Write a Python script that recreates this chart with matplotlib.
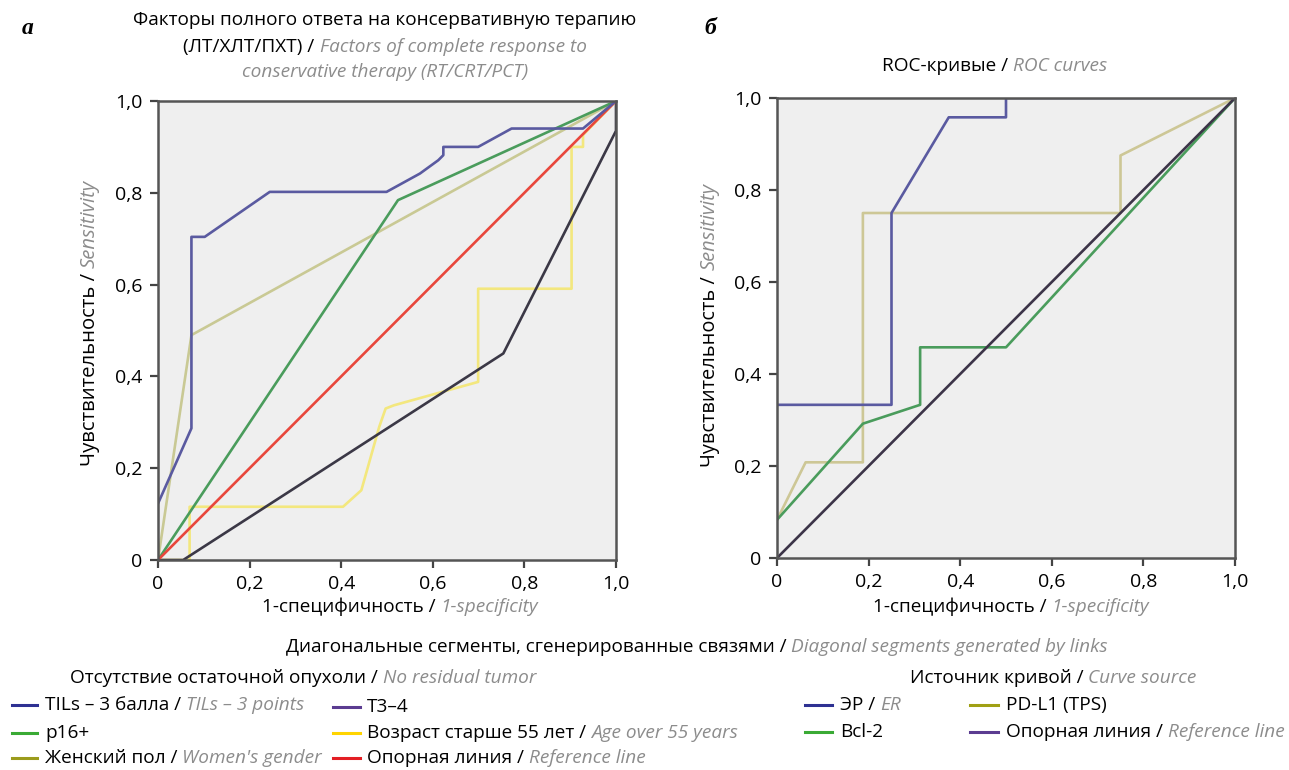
import numpy as np
import matplotlib
matplotlib.use("Agg")
import matplotlib.pyplot as plt
from matplotlib.lines import Line2D
from matplotlib.ticker import FuncFormatter

# panel a: ROC curves, complete response to conservative therapy
tils_x = [0, 0.073, 0.073, 0.102, 0.244, 0.499, 0.572, 0.612, 0.623, 0.623, 0.699, 0.772, 0.928, 1.0]
tils_y = [0.123, 0.287, 0.704, 0.704, 0.802, 0.802, 0.842, 0.871, 0.882, 0.90, 0.90, 0.94, 0.94, 1.0]
p16_x = [0, 0.524, 1.0]
p16_y = [0, 0.784, 1.0]
gender_x = [0, 0.073, 1.0]
gender_y = [0, 0.49, 1.0]
t34_x = [0, 0.055, 0.754, 1.0, 1.0]
t34_y = [0, 0, 0.45, 0.935, 1.0]
age_x = [0, 0.069, 0.069, 0.404, 0.444, 0.483, 0.497, 0.515, 0.699, 0.699, 0.903, 0.903, 0.928, 0.928, 1.0]
age_y = [0, 0, 0.116, 0.116, 0.152, 0.29, 0.33, 0.337, 0.388, 0.591, 0.591, 0.90, 0.90, 0.926, 1.0]
ref_x = [0, 1]
ref_y = [0, 1]

# panel b: ER, Bcl-2, PD-L1
er_x = [0, 0.25, 0.25, 0.375, 0.5, 0.5, 1.0]
er_y = [0.333, 0.333, 0.75, 0.958, 0.958, 1.0, 1.0]
bcl2_x = [0, 0.1875, 0.3125, 0.3125, 0.5, 1.0]
bcl2_y = [0.083, 0.292, 0.333, 0.458, 0.458, 1.0]
pdl1_x = [0, 0.0625, 0.1875, 0.1875, 0.75, 0.75, 1.0]
pdl1_y = [0.083, 0.208, 0.208, 0.75, 0.75, 0.875, 1.0]

ticks = [0, 0.2, 0.4, 0.6, 0.8, 1.0]

FONT = "Open Sans"
GREY = "#8c8c8c"
FS = 13.7
plt.rcParams["font.family"] = [FONT, "DejaVu Sans"]

W, H = 1289, 770
fig = plt.figure(figsize=(W / 100, H / 100), dpi=100)


def px(x, y):
    return x / W, 1 - y / H


def setup(ax):
    ax.set_facecolor("#efefef")
    ax.set_xlim(0, 1)
    ax.set_ylim(0, 1)
    ax.set_xticks(ticks)
    ax.set_yticks(ticks)
    fmt = FuncFormatter(lambda v, p: "0" if v == 0 else f"{v:.1f}".replace(".", ","))
    ax.xaxis.set_major_formatter(fmt)
    ax.yaxis.set_major_formatter(fmt)
    ax.tick_params(direction="out", length=6, width=1.6, color="#444444",
                   labelsize=14, pad=5)
    for s in ax.spines.values():
        s.set_linewidth(1.8)
        s.set_color("#555555")


ax1 = fig.add_axes([158 / W, 1 - 560 / H, 458 / W, 459 / H])
ax2 = fig.add_axes([777 / W, 1 - 558 / H, 458 / W, 460 / H])
setup(ax1)
setup(ax2)

lw = 1.9
ax1.plot(gender_x, gender_y, color="#c9c994", lw=lw)
ax1.plot(age_x, age_y, color="#f3e77e", lw=lw)
ax1.plot(t34_x, t34_y, color="#3b3846", lw=lw)
ax1.plot(p16_x, p16_y, color="#4a9c5c", lw=lw)
ax1.plot(ref_x, ref_y, color="#e8473c", lw=lw)
ax1.plot(tils_x, tils_y, color="#5a5aa0", lw=lw)

ax2.plot(pdl1_x, pdl1_y, color="#cdc796", lw=lw)
ax2.plot(bcl2_x, bcl2_y, color="#4a9c5c", lw=lw)
ax2.plot(ref_x, ref_y, color="#3c3448", lw=lw)
ax2.plot(er_x, er_y, color="#5a5aa0", lw=lw)

# mixed-style text lines: black Russian part, grey italic English part
rich_lines = []


def rich(x, y, parts, size=FS, ha="left", rot=0):
    arts = []
    for s, it in parts:
        t = fig.text(0, 0, s, fontsize=size, color=GREY if it else "black",
                     style="italic" if it else "normal",
                     va="center", ha="left" if rot == 0 else "center",
                     rotation=rot, rotation_mode="anchor" if rot == 0 else "default")
        arts.append(t)
    rich_lines.append((x, y, arts, ha, rot))


rich(385, 20, [("Факторы полного ответа на консервативную терапию", 0)], ha="center")
rich(385, 47, [("(ЛТ/ХЛТ/ПХТ) / ", 0), ("Factors of complete response to", 1)], ha="center")
rich(385, 72, [("conservative therapy (RT/CRT/PCT)", 1)], ha="center")
rich(995, 66, [("ROC-кривые / ", 0), ("ROC curves", 1)], ha="center")
rich(400, 607, [("1-специфичность / ", 0), ("1-specificity", 1)], ha="center")
rich(1011, 607, [("1-специфичность / ", 0), ("1-specificity", 1)], ha="center")
rich(90, 323, [("Чувствительность / ", 0), ("Sensitivity", 1)], size=14.6, ha="center", rot=90)
rich(710, 325, [("Чувствительность / ", 0), ("Sensitivity", 1)], size=14.4, ha="center", rot=90)
rich(697, 647, [("Диагональные сегменты, сгенерированные связями / ", 0),
                ("Diagonal segments generated by links", 1)], ha="center")

# legends
rich(70, 678, [("Отсутствие остаточной опухоли / ", 0), ("No residual tumor", 1)])
rich(910, 678, [("Источник кривой / ", 0), ("Curve source", 1)])

legend_items = [
    (12, 37, 45, 705, "#2e3192", [("TILs – 3 балла / ", 0), ("TILs – 3 points", 1)]),
    (12, 37, 45, 733, "#3aaa35", [("p16+", 0)]),
    (12, 37, 45, 758, "#9b9b1c", [("Женский пол / ", 0), ("Women's gender", 1)]),
    (333, 360, 367, 707, "#5b3c91", [("T3–4", 0)]),
    (333, 360, 367, 733, "#ffd400", [("Возраст старше 55 лет / ", 0), ("Age over 55 years", 1)]),
    (333, 360, 367, 758, "#e31e24", [("Опорная линия / ", 0), ("Reference line", 1)]),
    (805, 832, 840, 705, "#2e3192", [("ЭР / ", 0), ("ER", 1)]),
    (805, 832, 840, 732, "#3aaa35", [("Bcl-2", 0)]),
    (970, 998, 1006, 705, "#a0a014", [("PD-L1 (TPS)", 0)]),
    (970, 998, 1006, 732, "#5b3c91", [("Опорная линия / ", 0), ("Reference line", 1)]),
]
for x0, x1, tx, y, c, parts in legend_items:
    fig.add_artist(Line2D([x0 / W, x1 / W], [1 - y / H, 1 - y / H], color=c, lw=2.2,
                          transform=fig.transFigure))
    rich(tx, y, parts)

fig.text(*px(22, 28), "a", fontsize=17, family="Liberation Serif",
         weight="bold", style="italic", va="center", ha="left")
fig.text(*px(704, 28), "б", fontsize=17, family="Liberation Serif",
         weight="bold", style="italic", va="center", ha="left")

# lay out the text pieces one after another
fig.canvas.draw()
r = fig.canvas.get_renderer()
for x, y, arts, ha, rot in rich_lines:
    exts = [a.get_window_extent(r) for a in arts]
    if rot == 0:
        sizes = [e.width for e in exts]
    else:
        sizes = [e.height for e in exts]
    total = sum(sizes)
    if rot == 0:
        pos = x - total / 2 if ha == "center" else x
        for a, s in zip(arts, sizes):
            a.set_position(px(pos, y))
            pos += s
    else:
        pos = y + total / 2
        for a, s in zip(arts, sizes):
            a.set_position(px(x, pos - s / 2))
            pos -= s

fig.savefig("out.png", dpi=100)
